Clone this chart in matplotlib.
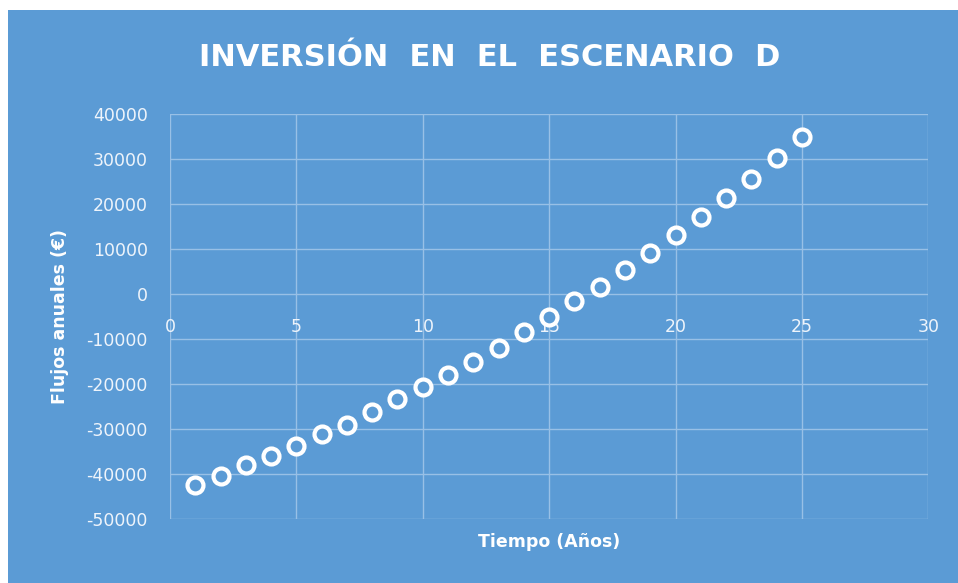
import matplotlib.pyplot as plt
from matplotlib.patches import Rectangle

plt.rcParams['axes.unicode_minus'] = False

# Annual cash flows for scenario D (years 1..25)
years = list(range(1, 26))
flows = [-42400, -40400, -38100, -36100, -33800, -31100, -29000, -26200,
         -23400, -20700, -17900, -15000, -11900, -8500, -5200, -1600,
         1600, 5300, 9100, 13100, 17100, 21300, 25600, 30200, 34800]

x_ticks = [0, 5, 10, 15, 20, 25, 30]
y_ticks = [-50000, -40000, -30000, -20000, -10000, 0, 10000, 20000, 30000, 40000]

BG = '#5b9bd5'
GRID = '#98c0e6'
TXT = '#eef4fb'

fig = plt.figure(figsize=(9.58, 5.83), dpi=100)
fig.patch.set_facecolor('white')
# blue chart area, leaving a thin white margin top/left
fig.patches.append(Rectangle((8 / 958, 0), 1, 1 - 10 / 583, transform=fig.transFigure,
                             facecolor=BG, edgecolor='none', zorder=-10))

ax = fig.add_axes([170 / 958, 1 - 519 / 583, (928.3 - 170) / 958, (519 - 114) / 583])
ax.set_facecolor(BG)

ax.plot(years, flows, linestyle='none', marker='o', markersize=11.5,
        markeredgewidth=3.0, markeredgecolor='white', markerfacecolor=BG, zorder=3)

ax.set_xlim(0, 30)
ax.set_ylim(-50000, 40000)
ax.set_xticks(x_ticks)
ax.set_yticks(y_ticks)
ax.grid(True, color=GRID, linewidth=1.0)
ax.set_axisbelow(True)

for side in ['top', 'right', 'left']:
    ax.spines[side].set_visible(False)
# x tick labels sit just under the zero line
ax.spines['bottom'].set_position(('data', 0))
ax.spines['bottom'].set_visible(False)

ax.tick_params(axis='x', length=0, pad=17, labelsize=12.5, labelcolor=TXT)
ax.tick_params(axis='y', length=0, pad=16, labelsize=12.5, labelcolor=TXT)

fig.text(60 / 958, 1 - 316 / 583, 'Flujos anuales (€)', rotation=90, ha='center', va='center',
         fontsize=12.5, fontweight='bold', color='white')
fig.text(549 / 958, 1 - 542 / 583, 'Tiempo (Años)', ha='center', va='center',
         fontsize=12.5, fontweight='bold', color='white')

fig.text(490 / 958, 1 - 57 / 583, 'INVERSIÓN  EN  EL  ESCENARIO  D', ha='center', va='center',
         fontsize=22, fontweight='bold', color='white')

fig.savefig('out.png', dpi=100, facecolor=fig.get_facecolor())
